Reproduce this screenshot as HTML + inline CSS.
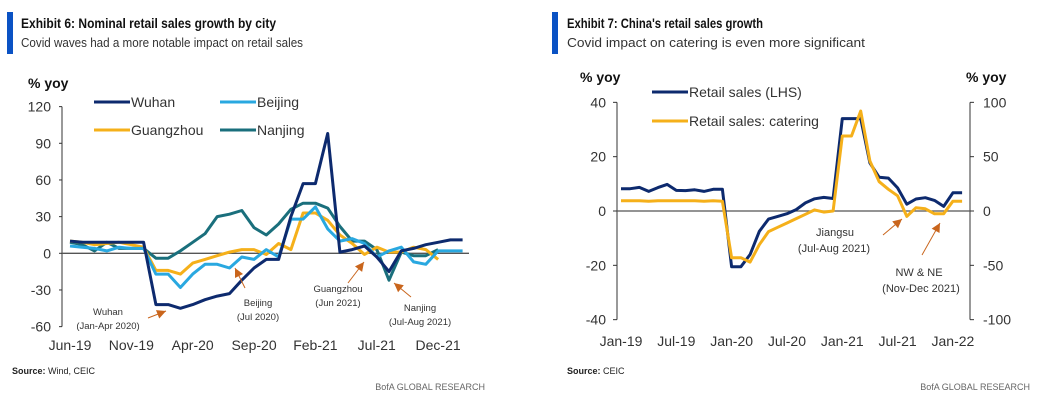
<!DOCTYPE html>
<html><head><meta charset="utf-8"><style>
body{margin:0;background:#fff;width:1037px;height:403px;overflow:hidden;font-family:"Liberation Sans",sans-serif}
svg text{font-family:"Liberation Sans",sans-serif}
</style></head><body>
<svg id="s" width="1037" height="403" xmlns="http://www.w3.org/2000/svg">
<g>
<rect x="7" y="12" width="6" height="42" fill="#0a52c4"/>
<text x="21" y="28" font-size="13.5" font-weight="bold" fill="#111" textLength="255" lengthAdjust="spacingAndGlyphs">Exhibit 6: Nominal retail sales growth by city</text>
<text x="21" y="47" font-size="13" fill="#333" textLength="282" lengthAdjust="spacingAndGlyphs">Covid waves had a more notable impact on retail sales</text>
</g>
<g>
<rect x="552" y="12" width="6" height="42" fill="#0a52c4"/>
<text x="567" y="28" font-size="13.5" font-weight="bold" fill="#111" textLength="196" lengthAdjust="spacingAndGlyphs">Exhibit 7: China's retail sales growth</text>
<text x="567" y="47" font-size="13" fill="#333" textLength="298" lengthAdjust="spacingAndGlyphs">Covid impact on catering is even more significant</text>
</g>
<g font-size="9" fill="#222">
<text x="12" y="374"><tspan font-weight="bold">Source:</tspan> Wind, CEIC</text>
<text x="485" y="390" text-anchor="end" fill="#666">BofA GLOBAL RESEARCH</text>
<text x="567" y="374"><tspan font-weight="bold">Source:</tspan> CEIC</text>
<text x="1030" y="390" text-anchor="end" fill="#666">BofA GLOBAL RESEARCH</text>
</g>
<g id="c1"></g>
<g id="c2"></g>
</svg>
<script>
const leftXLabels=["Jun-19","Nov-19","Apr-20","Sep-20","Feb-21","Jul-21","Dec-21"];
const leftYTicks=[120,90,60,30,0,-30,-60];
const wuhan=[10,9,9,9,9,9,9,-42,-42,-45,-42,-38,-35,-33,-22,-12,-5,-5,30,57,57,98,1,3,6,-3,-15,2,4,7,9,11,11];
const beijing=[6,5,4,2,5,4,4,-17,-17,-28,-17,-9,-9,-12,-3,-5,3,-3,28,28,38,20,10,12,8,-3,2,5,-7,-9,2,2,2];
const guangzhou=[10,9,7,8,9,7,5,-14,-14,-17,-8,-5,-2,1,3,3,-1,8,3,33,33,27,15,8,-1,5,1,1,5,3,-5];
const nanjing=[9,7,2,9,4,4,4,-4,-4,2,9,16,30,32,35,21,15,24,36,41,41,37,22,10,10,3,-22,1,-2,-2,3];

const rightXLabels=["Jan-19","Jul-19","Jan-20","Jul-20","Jan-21","Jul-21","Jan-22"];
const rightLTicks=[40,20,0,-20,-40];
const rightRTicks=[100,50,0,-50,-100];
const retail=[8.2,8.2,8.7,7.2,8.6,9.8,7.6,7.5,7.8,7.2,8,8,-20.5,-20.5,-16,-7.5,-3,-2,-1,0.5,3,4.5,5,4.6,34,34,34,17.7,12.4,12.1,8.5,2.5,4.4,4.9,3.9,1.7,6.7,6.7];
const catering=[9.5,9.5,9.5,9,9.5,9.5,9.5,9.5,9.5,9,9.5,9,-43,-43,-47,-31,-19,-15,-11,-7,-3,1,-1,0,69,69,92,46,27,20,14,-5,3,2,-2.6,-2.5,9,9];

const NS="http://www.w3.org/2000/svg";
function mk(p,tag,a,txt){const e=document.createElementNS(NS,tag);for(const k in a)e.setAttribute(k,a[k]);if(txt!==undefined)e.textContent=txt;p.appendChild(e);return e;}
const navy="#0d2a6e",sky="#29a8e0",gold="#f5b01a",teal="#1a6f7c",arrow="#c9651c";
function line(p,arr,fx,fy,col,name){let d=arr.map((v,i)=>(i?"L":"M")+fx(i).toFixed(1)+" "+fy(v).toFixed(1)).join("");
const e=mk(p,"path",{d:d,fill:"none",stroke:col,"stroke-width":3,"stroke-linejoin":"round"});

}
function arrowAt(p,x1,y1,x2,y2,name){const g=mk(p,"g",{});


mk(g,"line",{x1:x1,y1:y1,x2:x2,y2:y2,stroke:arrow,"stroke-width":1});
const a=Math.atan2(y2-y1,x2-x1),L=9,W=4.5;
const bx=x2-L*Math.cos(a),by=y2-L*Math.sin(a);
mk(g,"polygon",{points:`${x2},${y2} ${bx-W*Math.sin(a)},${by+W*Math.cos(a)} ${bx+W*Math.sin(a)},${by-W*Math.cos(a)}`,fill:arrow});}

// Left chart
(function(){
const g=document.getElementById("c1");
const x=i=>70+i*12.27, y=v=>253.3-v*(36.67/30);
mk(g,"text",{x:28,y:88,"font-size":14,"font-weight":"bold",fill:"#111"},"% yoy");
mk(g,"line",{x1:62,y1:y(120),x2:62,y2:y(-60),stroke:"#333","stroke-width":1});
leftYTicks.forEach(t=>{mk(g,"line",{x1:59,y1:y(t),x2:62,y2:y(t),stroke:"#333"});
const e=mk(g,"text",{x:51,y:y(t)+5,"font-size":14,fill:"#333","text-anchor":"end"},t);

});
mk(g,"line",{x1:62,y1:y(0),x2:469,y2:y(0),stroke:"#555","stroke-width":1.3});
leftXLabels.forEach((l,k)=>{const e=mk(g,"text",{x:x(k*5),y:350,"font-size":14,fill:"#333","text-anchor":"middle"},l);

});
line(g,nanjing,x,y,teal,"nanjing-line");
line(g,guangzhou,x,y,gold,"guangzhou-line");
line(g,beijing,x,y,sky,"beijing-line");
line(g,wuhan,x,y,navy,"wuhan-line");
const leg=[["Wuhan",navy,94,102],["Beijing",sky,220,102],["Guangzhou",gold,94,130],["Nanjing",teal,220,130]];
leg.forEach(l=>{const e=mk(g,"g",{});


mk(e,"line",{x1:l[2],y1:l[3],x2:l[2]+36,y2:l[3],stroke:l[1],"stroke-width":3});
mk(e,"text",{x:l[2]+37,y:l[3]+5,"font-size":14,fill:"#333"},l[0]);});
const ann=[["Wuhan",108,315],["(Jan-Apr 2020)",108,329],["Beijing",258,306],["(Jul 2020)",258,320],["Guangzhou",338,292],["(Jun 2021)",338,306],["Nanjing",420,311],["(Jul-Aug 2021)",420,325]];
ann.forEach(a=>mk(g,"text",{x:a[1],y:a[2],"font-size":9.5,fill:"#333","text-anchor":"middle"},a[0]));
arrowAt(g,148,318,166,311,"wuhan-arrow");
arrowAt(g,245,288,235,268,"beijing-arrow");
arrowAt(g,348,283,364,262,"guangzhou-arrow");
arrowAt(g,411,297,394,283,"nanjing-arrow");
})();

// Right chart
(function(){
const g=document.getElementById("c2");
const x=i=>621+i*9.22, y=v=>211-v*(54.33/20), yr=v=>y(v/2.5);
mk(g,"text",{x:580,y:82,"font-size":14,"font-weight":"bold",fill:"#111"},"% yoy");
mk(g,"text",{x:966,y:82,"font-size":14,"font-weight":"bold",fill:"#111"},"% yoy");
mk(g,"line",{x1:617,y1:y(40),x2:617,y2:y(-40),stroke:"#333"});
mk(g,"line",{x1:970,y1:y(40),x2:970,y2:y(-40),stroke:"#333"});
rightLTicks.forEach(t=>{mk(g,"line",{x1:613,y1:y(t),x2:617,y2:y(t),stroke:"#333"});
const e=mk(g,"text",{x:606,y:y(t)+5,"font-size":14,fill:"#333","text-anchor":"end"},t);

});
rightRTicks.forEach(t=>{mk(g,"line",{x1:970,y1:yr(t),x2:974,y2:yr(t),stroke:"#333"});
const e=mk(g,"text",{x:983,y:yr(t)+5,"font-size":14,fill:"#333"},t);

});
mk(g,"line",{x1:617,y1:y(0),x2:970,y2:y(0),stroke:"#555","stroke-width":1.3});
rightXLabels.forEach((l,k)=>{const e=mk(g,"text",{x:x(k*6),y:346,"font-size":14,fill:"#333","text-anchor":"middle"},l);

});
line(g,retail,x,y,navy,"retail-sales-line");
line(g,catering,x,yr,gold,"catering-line");
const leg=[["Retail sales (LHS)",navy,652,92],["Retail sales: catering",gold,652,121]];
leg.forEach(l=>{const e=mk(g,"g",{});


mk(e,"line",{x1:l[2],y1:l[3],x2:l[2]+36,y2:l[3],stroke:l[1],"stroke-width":3});
mk(e,"text",{x:l[2]+37,y:l[3]+5,"font-size":14,fill:"#333"},l[0]);});
const ann=[["Jiangsu",835,236],["(Jul-Aug 2021)",834,252],["NW & NE",919,276],["(Nov-Dec 2021)",921,292]];
ann.forEach(a=>mk(g,"text",{x:a[1],y:a[2],"font-size":11,fill:"#333","text-anchor":"middle"},a[0]));
arrowAt(g,883,235,902,219,"jiangsu-arrow");
arrowAt(g,922,255,940,223,"nw-ne-arrow");
})();
</script>
</body></html>
